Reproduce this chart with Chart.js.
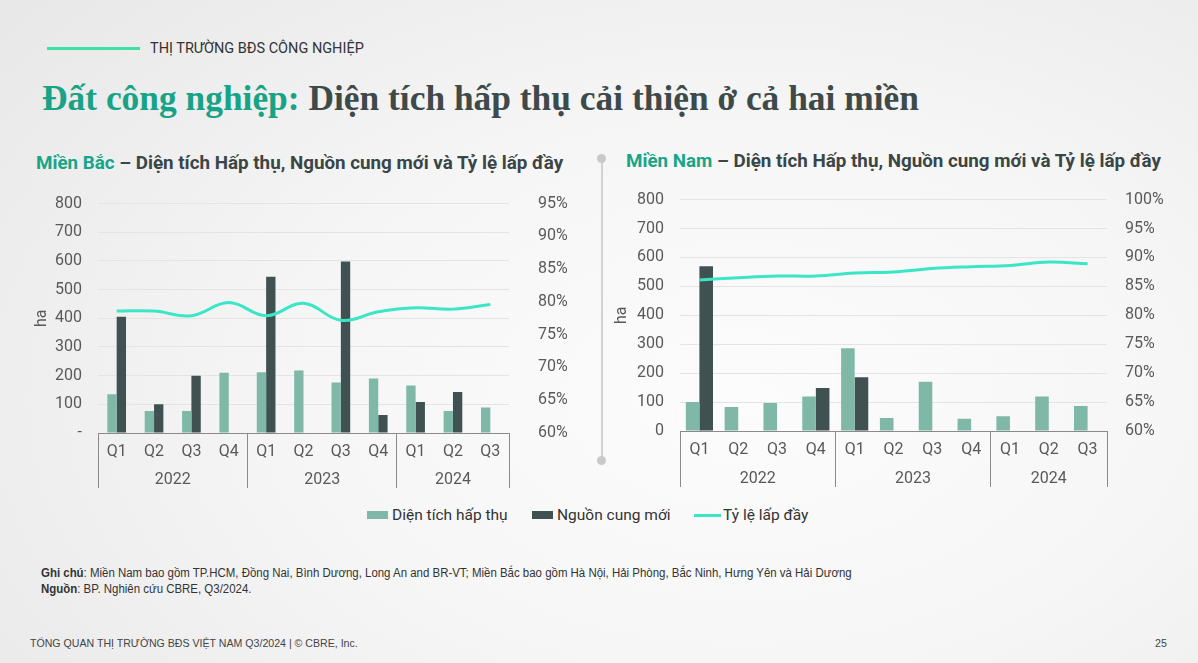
<!DOCTYPE html>
<html lang="vi">
<head>
  <meta charset="UTF-8" />
  <title>Đất công nghiệp - Diện tích hấp thụ</title>
  <script src="https://cdn.jsdelivr.net/npm/chart.js"></script>
  <style>
    body {
      margin: 0; width: 1198px; height: 663px; overflow: hidden; position: relative;
      font-family: Roboto, 'Liberation Sans', sans-serif;
      background: radial-gradient(ellipse 80% 90% at 62% 60%, #fcfcfc 0%, #f6f6f6 45%, #e8e8e8 100%);
    }
    .kicker-line { position: absolute; left: 47px; top: 47px; width: 93px; height: 3px; background: #3ee0a4; }
    .kicker { position: absolute; left: 150px; top: 40px; font-size: 14.5px; color: #333; }
    h1 {
      position: absolute; left: 42px; top: 77px; margin: 0; white-space: nowrap;
      font-family: 'Liberation Serif', 'DejaVu Serif', serif; font-size: 35.4px; font-weight: bold; color: #3e4a4a;
    }
    h1 span { color: #18a386; }
    .sub { position: absolute; font-size: 18.8px; font-weight: bold; color: #3a4545; white-space: nowrap; }
    .sub span { color: #17a589; }
    .divider { position: absolute; left: 601px; top: 158px; width: 2px; height: 302px; background: #d2d2d2; }
    .dot { position: absolute; width: 9px; height: 9px; border-radius: 50%; background: #c9c9c9; left: 597px; }
    canvas { position: absolute; }
    .legend { position: absolute; top: 505px; font-size: 15.5px; color: #333; white-space: nowrap; display: flex; align-items: center; height: 20px; }
    .legend .sw { display: inline-block; width: 21px; height: 8px; margin-right: 4px; }
    .legend .ln { display: inline-block; width: 27px; height: 3px; margin-right: 2px; background: #3be6c6; }
    .note { position: absolute; left: 41px; font-family: 'Liberation Sans', sans-serif; font-size: 12.5px; color: #333;
      white-space: nowrap; transform: scaleX(0.916); transform-origin: left top; }
    .footer { position: absolute; top: 637px; font-family: 'Liberation Sans', sans-serif; font-size: 10.6px; color: #444; white-space: nowrap; }
  </style>
</head>
<body>
  <div class="kicker-line"></div>
  <div class="kicker">THỊ TRƯỜNG BĐS CÔNG NGHIỆP</div>
  <h1><span>Đất công nghiệp:</span> Diện tích hấp thụ cải thiện ở cả hai miền</h1>

  <div class="sub" style="left:36px; top:152px;"><span>Miền Bắc</span> – Diện tích Hấp thụ, Nguồn cung mới và Tỷ lệ lấp đầy</div>
  <div class="sub" style="left:626px; top:150px;"><span>Miền Nam</span> – Diện tích Hấp thụ, Nguồn cung mới và Tỷ lệ lấp đầy</div>

  <div class="divider"></div>
  <div class="dot" style="top:154px;"></div>
  <div class="dot" style="top:456px;"></div>

  <canvas id="bac" width="560" height="317" style="left:20px; top:173px;"></canvas>
  <canvas id="nam" width="580" height="317" style="left:600px; top:174px;"></canvas>

  <div class="legend" style="left:367px;"><span class="sw" style="background:#7fb8a7"></span>Diện tích hấp thụ</div>
  <div class="legend" style="left:532px;"><span class="sw" style="background:#3f5150"></span>Nguồn cung mới</div>
  <div class="legend" style="left:694px;"><span class="ln"></span>Tỷ lệ lấp đầy</div>

  <div class="note" style="top:566px;"><b>Ghi chú</b>: Miền Nam bao gồm TP.HCM, Đồng Nai, Bình Dương, Long An and BR-VT; Miền Bắc bao gồm Hà Nội, Hải Phòng, Bắc Ninh, Hưng Yên và Hải Dương</div>
  <div class="note" style="top:582px;"><b>Nguồn</b>: BP. Nghiên cứu CBRE, Q3/2024.</div>

  <div class="footer" style="left:30px;">TỔNG QUAN THỊ TRƯỜNG BĐS VIỆT NAM Q3/2024 | © CBRE, Inc.</div>
  <div class="footer" style="left:1155px;">25</div>

  <script>
    // nhãn trục
    const quarters = ['Q1', 'Q2', 'Q3', 'Q4', 'Q1', 'Q2', 'Q3', 'Q4', 'Q1', 'Q2', 'Q3'];
    const years = ['2022', '2023', '2024'];
    const quartersPerYear = [4, 4, 3];

    // Miền Bắc (ha, %)
    const bacHapThu = [135, 77, 77, 210, 212, 218, 176, 190, 166, 77, 89];
    const bacNguonCung = [405, 100, 200, null, 545, null, 598, 63, 108, 143, null];
    const bacLapDay = [78.6, 78.6, 77.9, 79.9, 77.9, 79.8, 77.2, 78.5, 79.1, 78.9, 79.6];

    // Miền Nam (ha, %)
    const namHapThu = [100, 83, 97, 119, 286, 45, 170, 42, 51, 119, 86];
    const namNguonCung = [570, null, null, 149, 186, null, null, null, null, null, null];
    const namLapDay = [86.1, 86.5, 86.8, 86.8, 87.3, 87.5, 88.1, 88.4, 88.6, 89.2, 88.9];

    const C_LIGHT = '#7fb8a7', C_DARK = '#3f5150', C_LINE = '#3be6c6';
    const tickFont = { family: 'Roboto', size: 16 };
    const tickColor = '#595959';
    const sepColor = '#8a8a8a';

    // ranh giới và tâm của từng năm trên trục số
    const bounds = [-0.5];
    const centers = {};
    quartersPerYear.forEach((n, i) => {
      const start = bounds[bounds.length - 1];
      centers[start + n / 2] = years[i];
      bounds.push(start + n);
    });
    // chỉ số quý bắt đầu mỗi năm
    const yearStarts = bounds.slice(0, -1).map(b => b + 0.5);

    const isQSep = ctx => ctx.index === undefined || yearStarts.includes(ctx.index);
    const isYSep = ctx => !!ctx.tick && bounds.includes(ctx.tick.value);

    function makeChart(id, o) {
      new Chart(document.getElementById(id), {
        type: 'bar',
        data: {
          labels: quarters,
          datasets: [
            { type: 'line', label: 'Tỷ lệ lấp đầy', data: o.lapDay, yAxisID: 'y1', xAxisID: 'x',
              borderColor: C_LINE, borderWidth: 3, pointRadius: 0, tension: 0.4, order: 0 },
            { label: 'Diện tích hấp thụ', data: o.hapThu, backgroundColor: C_LIGHT, yAxisID: 'y', xAxisID: 'x',
              barPercentage: 1, categoryPercentage: o.catPct, order: 1 },
            { label: 'Nguồn cung mới', data: o.nguonCung, backgroundColor: C_DARK, yAxisID: 'y', xAxisID: 'x',
              barPercentage: 1, categoryPercentage: o.catPct, order: 1 }
          ]
        },
        options: {
          responsive: false,
          animation: false,
          layout: { padding: { left: 0, right: 0, top: 11, bottom: o.padBottom } },
          plugins: { legend: { display: false }, tooltip: { enabled: false } },
          scales: {
            x: {
              position: 'bottom',
              grid: {
                drawOnChartArea: false, tickLength: 30,
                color: ctx => isQSep(ctx) ? sepColor : 'transparent',
                lineWidth: ctx => isQSep(ctx) ? 1 : 0
              },
              border: { color: sepColor },
              ticks: { font: tickFont, color: tickColor, padding: -21, maxRotation: 0 },
              afterFit: s => { s.height = 27; }
            },
            x2: {
              type: 'linear', position: 'bottom', min: -0.5, max: quarters.length - 0.5, offset: false,
              afterBuildTicks: axis => {
                axis.ticks = bounds.concat(Object.keys(centers).map(Number))
                  .sort((a, b) => a - b).map(v => ({ value: v }));
              },
              grid: {
                offset: false, drawOnChartArea: false, tickLength: o.x2Tick,
                color: ctx => isYSep(ctx) ? sepColor : 'transparent',
                lineWidth: ctx => isYSep(ctx) ? 1 : 0
              },
              border: { display: false },
              ticks: { font: tickFont, color: tickColor, padding: -18, autoSkip: false, maxRotation: 0,
                callback: v => centers[v] || '' },
              afterFit: s => { s.height = o.x2Tick; }
            },
            y: {
              position: 'left', min: 0, max: 800,
              grid: { drawTicks: false, color: ctx => ctx.tick && ctx.tick.value === 0 ? 'transparent' : '#e4e4e4' },
              border: { display: false },
              ticks: { stepSize: 100, font: tickFont, color: tickColor, padding: 16,
                callback: v => (v === 0 ? o.zeroLabel : v) },
              title: { display: true, text: 'ha', font: tickFont, color: tickColor, padding: { top: 12, bottom: 0 } },
              afterFit: s => { s.width = o.yWidth; }
            },
            y1: {
              position: 'right', min: 60, max: o.pctMax,
              grid: { display: false },
              border: { display: false },
              ticks: { stepSize: 5, font: tickFont, color: tickColor, padding: o.pctPad, callback: v => v + '%' },
              afterFit: s => { s.width = o.y1Width; }
            }
          }
        }
      });
    }

    makeChart('bac', {
      hapThu: bacHapThu, nguonCung: bacNguonCung, lapDay: bacLapDay,
      catPct: 0.5, zeroLabel: '-', pctMax: 95,
      yWidth: 78, y1Width: 71, pctPad: 21, x2Tick: 28, padBottom: 2
    });
    makeChart('nam', {
      hapThu: namHapThu, nguonCung: namNguonCung, lapDay: namLapDay,
      catPct: 0.7, zeroLabel: '0', pctMax: 100,
      yWidth: 80, y1Width: 73, pctPad: 10, x2Tick: 29, padBottom: 4
    });
  </script>
</body>
</html>
